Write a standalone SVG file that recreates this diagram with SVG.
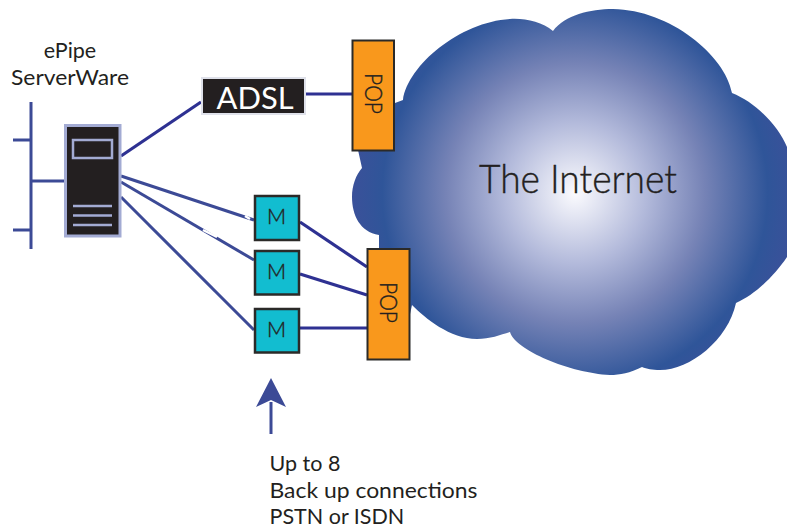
<svg xmlns="http://www.w3.org/2000/svg" width="787" height="528" viewBox="0 0 787 528">
<style>
text{font-family:"Lato","Liberation Sans",sans-serif;fill:#231f20}
.lbl{font-size:21.5px}
.pop rect{fill:#f9981c;stroke:#2b2a28;stroke-width:2}
.pop text{font-size:24px;text-anchor:middle;font-weight:300;stroke:#231f20;stroke-width:0.4}
.m rect{fill:#12bdd0;stroke:#2b2a28;stroke-width:2.5}
.m text{font-size:21px;text-anchor:middle;font-weight:300;stroke:#231f20;stroke-width:0.4}
.c{stroke:#2e3192;stroke-width:3.2;fill:none}
.b{stroke:#3c4a96;stroke-width:3;fill:none}
.s{stroke:#a3abd3;fill:none}
</style>
<defs>
<radialGradient id="g" gradientUnits="userSpaceOnUse" cx="575" cy="193" r="235">
<stop offset="0" stop-color="#fbfbfe"/>
<stop offset="0.3" stop-color="#b3badb"/>
<stop offset="0.55" stop-color="#7683b6"/>
<stop offset="0.82" stop-color="#2f5599"/>
<stop offset="1" stop-color="#3f4f9a"/>
</radialGradient>
</defs>
<g id="cloud">
<path fill="url(#g)" d="M403,100 C408,65 460,22 510,19 C525,18 542,22 553,31 C565,15 590,9 613,9 C670,10 725,55 732,93 C755,102 778,125 787,147 L787,257 C775,275 755,295 736,303 C728,340 690,370 660,370 C652,370 647,369 642,367 C630,373 620,375 610,375 C570,373 515,350 510,332 C500,335 490,339 477,339 C450,339 425,318 412,305 L400,360 L379,300 L379,235 C360,232 352,215 352,197 C352,185 356,175 362,168 L358,150 L395,103 Z"/>
<text x="578" y="193" font-size="39" font-weight="300" stroke="#231f20" stroke-width="0.4" text-anchor="middle" textLength="198" lengthAdjust="spacingAndGlyphs">The Internet</text>
</g>
<g id="connectors">
<path class="c" d="M121,156 L201,102"/>
<path class="c" d="M306,94 L352,94"/>
<path class="c" d="M300,222 L367,267"/>
<path class="c" d="M300,274 L367,295"/>
<path class="c" d="M300,328 L367,328"/>
<path class="b" d="M121,176 L254,220"/>
<path class="b" d="M121,182 L254,260"/>
<path class="b" d="M121,197 L254,330"/>
<path stroke="#fff" stroke-width="2.500" d="M245,216 L250,219 M203,230 L217,237" fill="none"/>
<path class="b" d="M31,102 L31,249 M13,140 L31,140 M13,230 L31,230 M31,181 L64,181"/>
</g>
<g id="server">
<rect x="65.500" y="125.500" width="54.500" height="110.500" fill="#231f20" stroke="#a3abd3" stroke-width="3"/>
<rect x="73" y="140" width="39" height="18" class="s" fill="none" stroke-width="2.500"/>
<path class="s" stroke-width="2.500" d="M73,206 L112,206 M73,215.500 L112,215.500 M73,225 L112,225"/>
<text class="lbl" x="70" y="58" text-anchor="middle">ePipe</text>
<text class="lbl" x="70" y="85" text-anchor="middle" textLength="118" lengthAdjust="spacingAndGlyphs">ServerWare</text>
</g>
<g id="adsl">
<rect x="202" y="78" width="103" height="36" fill="#231f20" stroke="#dfe1ea" stroke-width="2"/>
<text x="255" y="109" font-size="31" text-anchor="middle" style="fill:#fff" textLength="77" lengthAdjust="spacingAndGlyphs">ADSL</text>
</g>
<g id="pop1" class="pop">
<rect x="352.500" y="40.500" width="41.500" height="110"/>
<text transform="translate(365,93.500) rotate(90)" textLength="41" lengthAdjust="spacingAndGlyphs">POP</text>
</g>
<g id="pop2" class="pop">
<rect x="367.500" y="249" width="42" height="110.500"/>
<text transform="translate(380,302.500) rotate(90)" textLength="41" lengthAdjust="spacingAndGlyphs">POP</text>
</g>
<g id="m1" class="m"><rect x="255" y="196" width="44" height="44"/><text x="276.500" y="224">M</text></g>
<g id="m2" class="m"><rect x="255" y="251" width="44" height="43.500"/><text x="276.500" y="279">M</text></g>
<g id="m3" class="m"><rect x="255" y="309" width="44" height="43.500"/><text x="276.500" y="337">M</text></g>
<g id="backup">
<path d="M271,434 L271,402" stroke="#3c4a96" stroke-width="3" fill="none"/>
<path d="M271,378 L286,407 L271,400 L256,407 Z" fill="#3c4a96"/>
<text class="lbl" x="269.500" y="471">Up to 8</text>
<text class="lbl" x="269.500" y="498" textLength="208" lengthAdjust="spacingAndGlyphs">Back up connections</text>
<text class="lbl" x="269.500" y="524">PSTN or ISDN</text>
</g>
</svg>
